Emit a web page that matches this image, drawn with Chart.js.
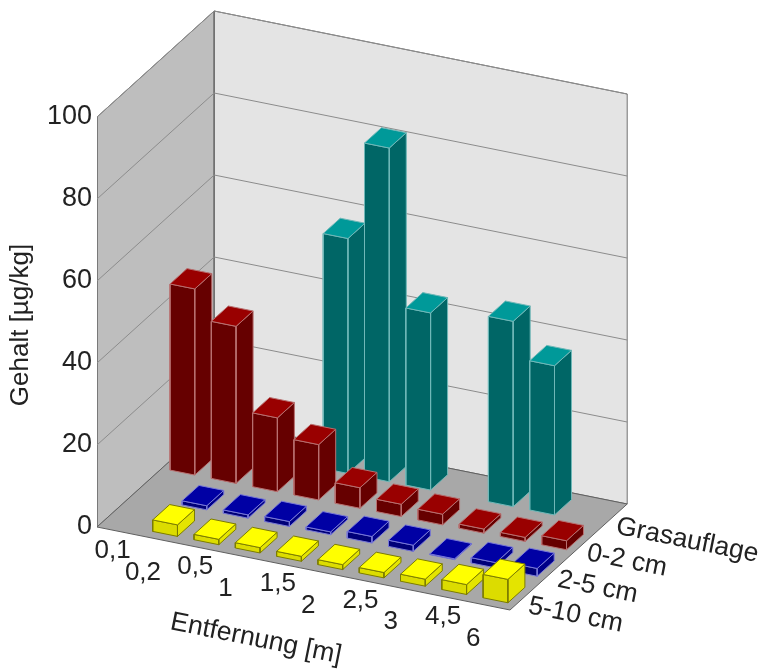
<!DOCTYPE html>
<html>
<head>
<meta charset="utf-8">
<title>Gehalt</title>
<script src="https://cdn.jsdelivr.net/npm/chart.js@4"></script>
<style>
    html, body { margin: 0; padding: 0; background: #fff; }
    canvas { display: block; }
</style>
</head>
<body>
<canvas id="chart" width="761" height="672"></canvas>
<script>
const distances = ["0,1", "0,2", "0,5", "1", "1,5", "2", "2,5", "3", "4,5", "6"];
const layers = ["5-10 cm", "2-5 cm", "0-2 cm", "Grasauflage"];

// null = no bar in the reference
const layer_5_10 = [null, 2.8, 1.3, 1.3, 1.2, 1.2, 1.3, 1.7, 2.4, 5.7];
const layer_2_5 = [null, 1.0, 0.8, 1.2, 0.7, 1.6, 1.5, 0.2, 1.3, 1.9];
const layer_0_2 = [45.4, 38.3, 18, 13.5, 5, 3, 2.6, 1, 1, 2.2];
const layer_gras = [null, null, null, 57.3, 81.4, 43.2, null, 45.2, 36.4, null];

const rowValues = [layer_5_10, layer_2_5, layer_0_2, layer_gras];
const rowColors = [
    { front: "#dcdc00", side: "#e4e400", top: "#ffff00", edge: "#7c7c00" },
    { front: "#000078", side: "#000088", top: "#0000a4", edge: "#7878d8" },
    { front: "#660000", side: "#660000", top: "#990000", edge: "#b87070" },
    { front: "#006666", side: "#006666", top: "#009999", edge: "#70b8b8" }
];

const GRID_VALUES = [20, 40, 60, 80, 100];
const BAR_WIDTH = 0.6;
const BAR_DEPTH = 0.58;
const TEXT_COLOR = "#222";

// Pixels per unit of the oblique view
const COL_PX = 41.3;
const VALUE_PX = 4.1;
const COL_SLOPE = 8.3 / VALUE_PX;
const ROW_X = 29.3 / COL_PX;
const ROW_Y = 26.5 / VALUE_PX;

// Floor position + height to the plane of the x/y scales
function project(col, row, value) {
    return {
        x: col + row * ROW_X,
        y: value - col * COL_SLOPE + row * ROW_Y
    };
}

function polygon(points, fillColor, edgeColor) {
    return {
        data: points.concat([points[0]]),
        showLine: true,
        fill: "shape",
        backgroundColor: fillColor,
        borderColor: edgeColor,
        borderWidth: 1,
        pointRadius: 0
    };
}

function gridLine(a, b) {
    return {
        data: [a, b],
        showLine: true,
        fill: false,
        borderColor: "#8c8c8c",
        borderWidth: 1,
        pointRadius: 0
    };
}

let datasets = [];

// Walls and floor
datasets.push(polygon([project(0, 0, 0), project(0, 4, 0), project(0, 4, 100), project(0, 0, 100)], "#bebebe", "#707070"));
datasets.push(polygon([project(0, 4, 0), project(10, 4, 0), project(10, 4, 100), project(0, 4, 100)], "#e4e4e4", "#707070"));
datasets.push(polygon([project(0, 0, 0), project(10, 0, 0), project(10, 4, 0), project(0, 4, 0)], "#a8a8a8", "#606060"));

GRID_VALUES.forEach((v) => {
    datasets.push(gridLine(project(0, 0, v), project(0, 4, v)));
    datasets.push(gridLine(project(0, 4, v), project(10, 4, v)));
});

// Bars, back row first and left to right so nearer ones cover farther ones
for (let row = rowValues.length - 1; row >= 0; row--) {
    rowValues[row].forEach((value, col) => {
        if (value === null) {
            return;
        }
        let c0 = col + (1 - BAR_WIDTH) / 2;
        let c1 = c0 + BAR_WIDTH;
        let r0 = row + (1 - BAR_DEPTH) / 2;
        let r1 = r0 + BAR_DEPTH;
        let color = rowColors[row];
        datasets.push(polygon([project(c0, r0, 0), project(c1, r0, 0), project(c1, r0, value), project(c0, r0, value)], color.front, color.edge));
        datasets.push(polygon([project(c1, r0, 0), project(c1, r1, 0), project(c1, r1, value), project(c1, r0, value)], color.side, color.edge));
        datasets.push(polygon([project(c0, r0, value), project(c1, r0, value), project(c1, r1, value), project(c0, r1, value)], color.top, color.edge));
    });
}

// Chart.js paints the first dataset last
datasets.reverse();

function drawText(ctx, text, x, y, angle, align) {
    ctx.save();
    ctx.translate(x, y);
    ctx.rotate(angle);
    ctx.textAlign = align;
    ctx.textBaseline = "middle";
    ctx.fillText(text, 0, 0);
    ctx.restore();
}

const floorLabels = {
    id: "floorLabels",
    afterDraw(chart) {
        let ctx = chart.ctx;
        let toPixel = (p) => ({ x: chart.scales.x.getPixelForValue(p.x), y: chart.scales.y.getPixelForValue(p.y) });
        let slope = Math.atan2(COL_SLOPE * VALUE_PX, COL_PX);

        ctx.save();
        ctx.fillStyle = TEXT_COLOR;
        ctx.font = "26px 'Liberation Sans'";

        // Staggered distance labels along the front edge
        distances.forEach((label, col) => {
            let p = toPixel(project(col + 0.5, 0, 0));
            let odd = col % 2 === 1;
            drawText(ctx, label, p.x + (odd ? -16 : -5), p.y + (odd ? 33 : 19.5), 0, "center");
        });

        // Layer labels along the right edge
        ctx.font = "26.5px 'Liberation Sans'";
        layers.forEach((label, row) => {
            let p = toPixel(project(10, row + 0.5, 0));
            drawText(ctx, label, p.x + 4, p.y + 9, slope, "left");
        });

        drawText(ctx, "Entfernung [m]", 256, 639, slope, "center");
        ctx.restore();
    }
};

new Chart(document.getElementById("chart"), {
    type: "scatter",
    data: { datasets: datasets },
    plugins: [floorLabels],
    options: {
        responsive: false,
        animation: false,
        events: [],
        layout: { padding: { top: 0, right: 0, bottom: 22, left: 0 } },
        plugins: {
            legend: { display: false },
            tooltip: { enabled: false }
        },
        scales: {
            x: {
                type: "linear",
                display: false,
                min: 0,
                max: (761 - 97) / COL_PX
            },
            y: {
                type: "linear",
                min: -123 / VALUE_PX,
                max: 527 / VALUE_PX,
                afterFit: (scale) => {
                    scale.width = 97;
                    scale.paddingTop = 0;
                    scale.paddingBottom = 0;
                },
                afterBuildTicks: (scale) => {
                    scale.ticks = scale.ticks.filter((t) => t.value >= 0 && t.value <= 100);
                },
                grid: { display: false, drawTicks: false },
                border: { display: false },
                ticks: {
                    stepSize: 20,
                    includeBounds: false,
                    padding: 5,
                    color: TEXT_COLOR,
                    font: { family: "'Liberation Sans'", size: 27 }
                },
                title: {
                    display: true,
                    text: "Gehalt [µg/kg]",
                    color: TEXT_COLOR,
                    padding: { top: 5, bottom: 0 },
                    font: { family: "'Liberation Sans'", size: 26 }
                }
            }
        }
    }
});
</script>
</body>
</html>
